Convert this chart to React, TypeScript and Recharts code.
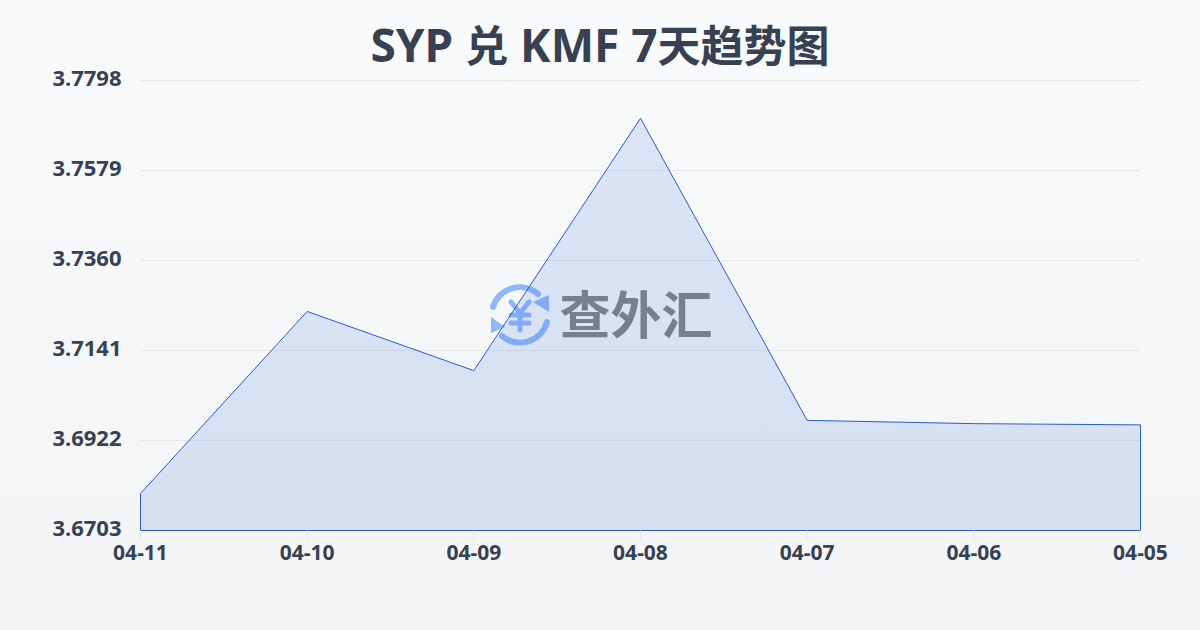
import { AreaChart, Area, CartesianGrid, ReferenceLine, XAxis, YAxis } from "recharts";

const DATES = ["04-11", "04-10", "04-09", "04-08", "04-07", "04-06", "04-05"];
const RATES = [3.6793, 3.7236, 3.7092, 3.7706, 3.6971, 3.6963, 3.696];
const Y_TICKS = [3.6703, 3.6922, 3.7141, 3.736, 3.7579, 3.7798];

const LINE = "#2a5cc9";
const TEXT = "#374151";
const ICON = "#8fb8f8";
const FONT = '"Noto Sans", "Noto Sans CJK SC", sans-serif';

const chartData = DATES.map((date, i) => ({ date, rate: RATES[i] }));

// sits under the chart, so the area fill tints it
function Watermark() {
  return (
    <svg width={1200} height={630} style={{ position: "absolute", left: 0, top: 0 }}>
      <g fill="none" stroke={ICON} strokeWidth={6} strokeLinecap="round">
        <path d="M493 307 A28 28 0 0 1 538 294" />
        <path d="M547 322 A28 28 0 0 1 502 336" />
        <path d="M511 302 L520 313 L529 302 M511 315 H529 M511 323 H529 M520 313 V330" strokeWidth={5} />
      </g>
      <path d="M549 295 L549 312 L533 302 Z" fill={ICON} />
      <path d="M491 317 L491 333 L505 327 Z" fill={ICON} />
      <text x={636} y={334} textAnchor="middle" fontSize={51} fontWeight={700} fill="#838382" fontFamily={FONT}>
        查外汇
      </text>
    </svg>
  );
}

export default function App() {
  const yMin = Y_TICKS[0];
  const yMax = Y_TICKS[Y_TICKS.length - 1];
  const first = DATES[0];
  const last = DATES[DATES.length - 1];
  const cjk = { fontSize: 43 };

  return (
    <div
      style={{
        position: "absolute",
        left: 0,
        top: 0,
        width: 1200,
        height: 630,
        overflow: "hidden",
        background: "linear-gradient(180deg, #f9fafb 0%, #f3f4f6 100%)",
        fontFamily: FONT,
      }}
    >
      <div
        style={{
          position: "absolute",
          left: 0,
          top: 14,
          width: 1200,
          textAlign: "center",
          fontSize: 46,
          lineHeight: "60px",
          fontWeight: 700,
          color: TEXT,
        }}
      >
        SYP <span style={cjk}>兑</span> KMF 7<span style={cjk}>天趋势图</span>
      </div>
      <Watermark />
      <div style={{ position: "absolute", left: 0, top: 0 }}>
        <AreaChart width={1200} height={630} data={chartData} margin={{ top: 80.5, right: 59.5, bottom: 0, left: 0 }}>
          <CartesianGrid vertical={false} stroke="#e5e7eb" strokeWidth={1} />
          <XAxis
            dataKey="date"
            scale="point"
            padding={{ left: 0, right: 0 }}
            height={99.5}
            interval={0}
            axisLine={false}
            tickLine={{ stroke: "#e5e7eb" }}
            tickSize={10}
            tickMargin={5}
            tick={{ fontSize: 21, fontWeight: 700, fill: TEXT }}
          />
          <YAxis
            width={140.5}
            domain={[yMin, yMax]}
            ticks={Y_TICKS}
            interval={0}
            axisLine={false}
            tickLine={false}
            tickMargin={13}
            tickFormatter={(v: number) => v.toFixed(4)}
            tick={{ fontSize: 22, fontWeight: 700, fill: TEXT, dy: -2 }}
          />
          <Area
            type="linear"
            dataKey="rate"
            baseValue={yMin}
            stroke={LINE}
            strokeWidth={1}
            fill="#3366dd"
            fillOpacity={0.15}
            dot={false}
            activeDot={false}
            isAnimationActive={false}
          />
          <ReferenceLine y={yMin} stroke={LINE} strokeWidth={1} />
          <ReferenceLine
            segment={[
              { x: first, y: yMin },
              { x: first, y: RATES[0] },
            ]}
            stroke={LINE}
            strokeWidth={1}
          />
          <ReferenceLine
            segment={[
              { x: last, y: yMin },
              { x: last, y: RATES[RATES.length - 1] },
            ]}
            stroke={LINE}
            strokeWidth={1}
          />
        </AreaChart>
      </div>
    </div>
  );
}
